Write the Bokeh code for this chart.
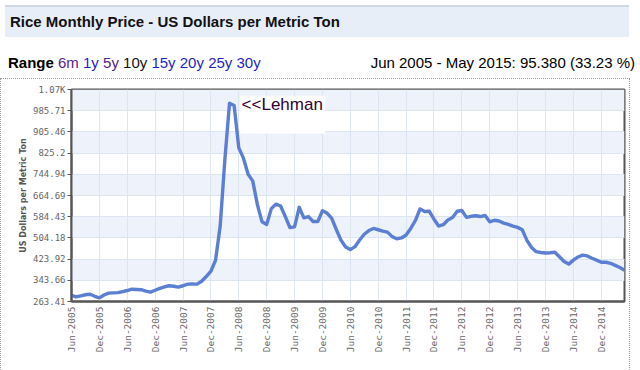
import math
from bokeh.plotting import figure
from bokeh.models import Range1d, FixedTicker, Label, BoxAnnotation, Div
from bokeh.layouts import column
from bokeh.embed import file_html
from bokeh.resources import INLINE

# ---------------- data ----------------
title_text = "Rice Monthly Price - US Dollars per Metric Ton"
range_label = "Range"
range_options = ["6m", "1y", "5y", "10y", "15y", "20y", "25y", "30y"]
range_colors = ["#55228b", "#1f1fc4", "#55228b", "#111111", "#1f1fc4", "#1f1fc4", "#1f1fc4", "#1f1fc4"]
summary_text = "Jun 2005 - May 2015: 95.380 (33.23 %)"
y_axis_title = "US Dollars per Metric Ton"
annotation_text = "<<Lehman"

# monthly prices, Jun 2005 .. May 2015
prices = [
    287, 281, 285, 289, 291, 283, 277, 288, 295, 296,
    297, 301, 305, 310, 309, 308, 303, 299, 306, 313,
    319, 323, 321, 318, 323, 329, 330, 329, 340, 358,
    378, 420, 550, 800, 1014, 1005, 845, 806, 745, 720,
    630, 565, 555, 615, 632, 625, 585, 543, 546, 620,
    580, 585, 566, 566, 607, 598, 578, 535, 495, 470,
    460, 471, 496, 518, 532, 540, 535, 530, 526, 509,
    501, 504, 515, 540, 570, 614, 604, 605, 575, 549,
    554, 572, 581, 605, 608, 582, 586, 588, 585, 589,
    565, 571, 568, 560, 555, 549, 544, 535, 495, 468,
    452, 449, 447, 448, 450, 433, 415, 405, 420, 432,
    439, 436, 427, 420, 412, 412, 408, 400, 392, 382,
]
month_index = list(range(len(prices)))

x_tick_labels = [
    "Jun-2005", "Dec-2005", "Jun-2006", "Dec-2006", "Jun-2007", "Dec-2007",
    "Jun-2008", "Dec-2008", "Jun-2009", "Dec-2009", "Jun-2010", "Dec-2010",
    "Jun-2011", "Dec-2011", "Jun-2012", "Dec-2012", "Jun-2013", "Dec-2013",
    "Jun-2014", "Dec-2014",
]
x_tick_positions = list(range(0, len(prices), 6))

y_tick_values = [263.41, 343.66, 423.92, 504.18, 584.43, 664.69,
                 744.94, 825.20, 905.46, 985.71, 1065.97]
y_tick_labels = ["263.41", "343.66", "423.92", "504.18", "584.43", "664.69",
                 "744.94", "825.2", "905.46", "985.71", "1.07K"]

# ---------------- header ----------------
FONT = "'Liberation Sans', Arial, sans-serif"
title_div = Div(
    text=title_text, width=624, height=32,
    styles={"background-color": "#e8eef8", "border-top": "2px solid #d0d7e3",
            "font-family": FONT, "font-size": "15px", "font-weight": "bold",
            "color": "#111111", "padding-left": "5px", "line-height": "30px",
            "box-sizing": "border-box"},
)

left_html = f'<span style="font-weight:bold;color:#000">{range_label}</span> ' + " ".join(
    f'<span style="color:{c}">{o}</span>' for o, c in zip(range_options, range_colors))
range_html = (
    f'<div style="display:flex;justify-content:space-between;width:630px;box-sizing:border-box;'
    f'font-family:{FONT};font-size:15px;color:#000;padding-top:7px;padding-left:3px;line-height:18px">'
    f'<span>{left_html}</span><span>{summary_text}</span></div>'
)
range_div = Div(text=range_html, width=630, height=26)

# ---------------- chart ----------------
p = figure(
    width=630, height=296, output_backend="svg", toolbar_location=None,
    x_range=Range1d(month_index[0], month_index[-1]),
    y_range=Range1d(y_tick_values[0], y_tick_values[-1]),
    min_border_left=70, min_border_right=7, min_border_top=10, min_border_bottom=74,
)
p.styles = {"border": "1px dotted #9a9a9a", "box-sizing": "border-box"}
p.background_fill_color = "white"
p.outline_line_color = "#555555"
p.outline_line_width = 2

p.xaxis.ticker = FixedTicker(ticks=x_tick_positions)
p.xaxis.major_label_overrides = {pos: lab for pos, lab in zip(x_tick_positions, x_tick_labels)}
p.xaxis.major_label_orientation = math.pi / 2
p.xaxis.major_tick_out = 0
p.xaxis.major_tick_in = 0
p.xaxis.major_label_standoff = 5
p.xaxis.major_label_text_font = "DejaVu Sans Mono"
p.xaxis.major_label_text_font_size = "9.5px"

p.yaxis.ticker = FixedTicker(ticks=y_tick_values)
p.yaxis.major_label_overrides = {v: l for v, l in zip(y_tick_values, y_tick_labels)}
p.yaxis.major_tick_out = 4
p.yaxis.major_tick_in = 0
p.yaxis.major_label_standoff = 2
p.yaxis.major_label_text_font = "DejaVu Sans Mono"
p.yaxis.major_label_text_font_size = "9px"
p.yaxis.axis_label = y_axis_title
p.yaxis.axis_label_text_font = "DejaVu Sans"
p.yaxis.axis_label_text_font_style = "bold"
p.yaxis.axis_label_text_font_size = "8px"
p.yaxis.axis_label_text_color = "#555555"
p.yaxis.axis_label_standoff = 2

for ax in (p.xaxis, p.yaxis):
    ax.axis_line_color = "#555555"
    ax.axis_line_width = 2
    ax.major_tick_line_color = "#555555"
    ax.minor_tick_line_color = None
    ax.major_label_text_color = "#666666"

p.xgrid.ticker = FixedTicker(ticks=x_tick_positions)
p.ygrid.ticker = FixedTicker(ticks=y_tick_values)
p.grid.grid_line_color = "#dde5f3"
p.grid.grid_line_width = 1

# alternating light bands on every other tick interval, starting with the second from the bottom
band_bottoms = y_tick_values[1:-1:2]
band_tops = y_tick_values[2::2]
p.quad(left=month_index[0], right=month_index[-1], bottom=band_bottoms, top=band_tops,
       fill_color="#eef2fa", line_color=None, level="underlay")

peak_i = max(month_index, key=lambda i: prices[i])
peak_v = prices[peak_i]
p.add_layout(BoxAnnotation(left=peak_i + 2.3, right=peak_i + 20.6,
                           top=peak_v + 28, bottom=peak_v - 115,
                           fill_color="white", fill_alpha=1.0, line_color=None))

p.line(month_index, prices, line_color="#5b7fd2", line_width=3.4, line_join="round")

p.add_layout(Label(x=peak_i + 2.6, y=peak_v + 32, text=annotation_text,
                   text_baseline="top", text_align="left", text_color="#330033",
                   text_font="Liberation Sans", text_font_size="17px"))

layout = column(title_div, range_div, p, spacing=0)
open("out.html", "w").write(file_html(layout, INLINE))
